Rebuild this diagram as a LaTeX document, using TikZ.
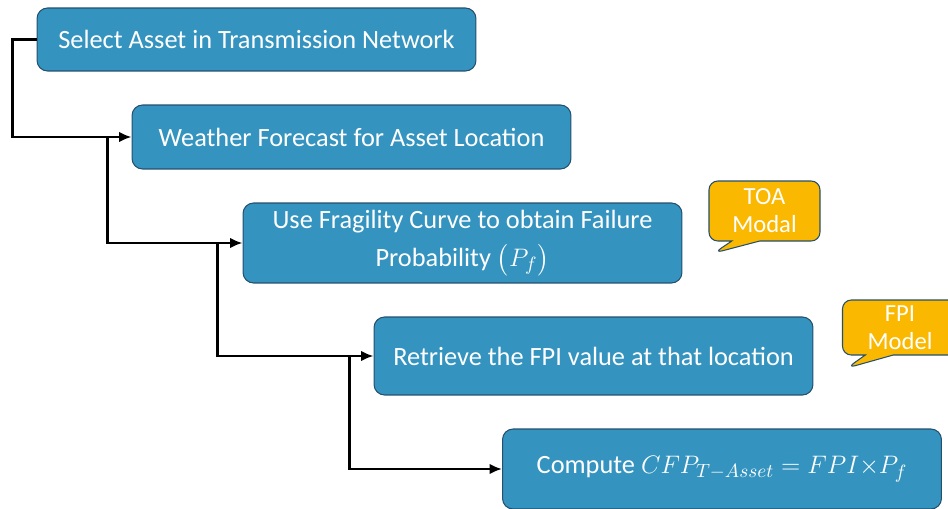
\documentclass[tikz,border=0pt]{standalone}
\usepackage{amsmath,amssymb}
\usepackage{xcolor}
\usepackage{fontspec}
\setmainfont{Carlito}
\usepackage{tikz}
\usetikzlibrary{shapes.callouts, arrows.meta, positioning, calc}

\definecolor{stepblue}{HTML}{3494BF}
\definecolor{stepedge}{HTML}{24506E}
\definecolor{notegold}{HTML}{FBB800}

\begin{document}
\begin{tikzpicture}[
      x=0.02cm, y=-0.02cm,
      stage/.style={
        rectangle, rounded corners=6pt, draw=stepedge, fill=stepblue,
        line width=0.6pt, text=white, align=center,
        minimum width=8.78cm, font=\fontsize{15}{21.5}\selectfont},
      note/.style={
        rectangle callout, rounded corners=5pt, draw=stepedge, fill=notegold,
        line width=0.6pt, text=white, align=center,
        callout pointer width=0.56cm, inner sep=2pt,
        font=\fontsize{14}{16}\selectfont},
      arr/.style={-{Latex[length=7pt, width=6pt]}, line width=1.4pt, black}
    ]
    \useasboundingbox (0,0) rectangle (948,508);

    % --- Steps (staircase) ---
    \node[stage, minimum height=1.26cm] (select)   at (256.5,39.5) {Select Asset in Transmission Network};
    \node[stage, minimum height=1.28cm] (forecast) at (351.5,137)  {Weather Forecast for Asset Location};
    \node[stage, minimum height=1.6cm]  (fragile)  at (462.5,243)
      {Use Fragility Curve to obtain Failure\\Probability $\bigl(P_f\bigr)$};
    \node[stage, minimum height=1.56cm] (fpi)      at (593.5,356)  {Retrieve the FPI value at that location};
    \node[stage, minimum height=1.6cm]  (compute)  at (722,469)
      {Compute $CFP_{T-Asset} = FPI{\times}P_f$};

    % --- Notes ---
    \node[note, minimum width=2.22cm, minimum height=1.2cm,
          callout absolute pointer={(714,253)}] (toa) at (764.5,211) {TOA\\Modal};
    \node[note, minimum width=2.3cm, minimum height=1.1cm,
          callout absolute pointer={(847,368)}] (fpinote) at (900,327.5) {FPI\\Model};

    % --- Step arrows ---
    \draw[arr] (select.west) -- ++(-24,0) |- (forecast.west);
    \draw[arr] ($(forecast.west)+(-24,0)$) |- (fragile.west);
    \draw[arr] ($(fragile.west)+(-25,0)$) |- (fpi.west);
    \draw[arr] ($(fpi.west)+(-24,0)$) |- (compute.west);
  \end{tikzpicture}
\end{document}
